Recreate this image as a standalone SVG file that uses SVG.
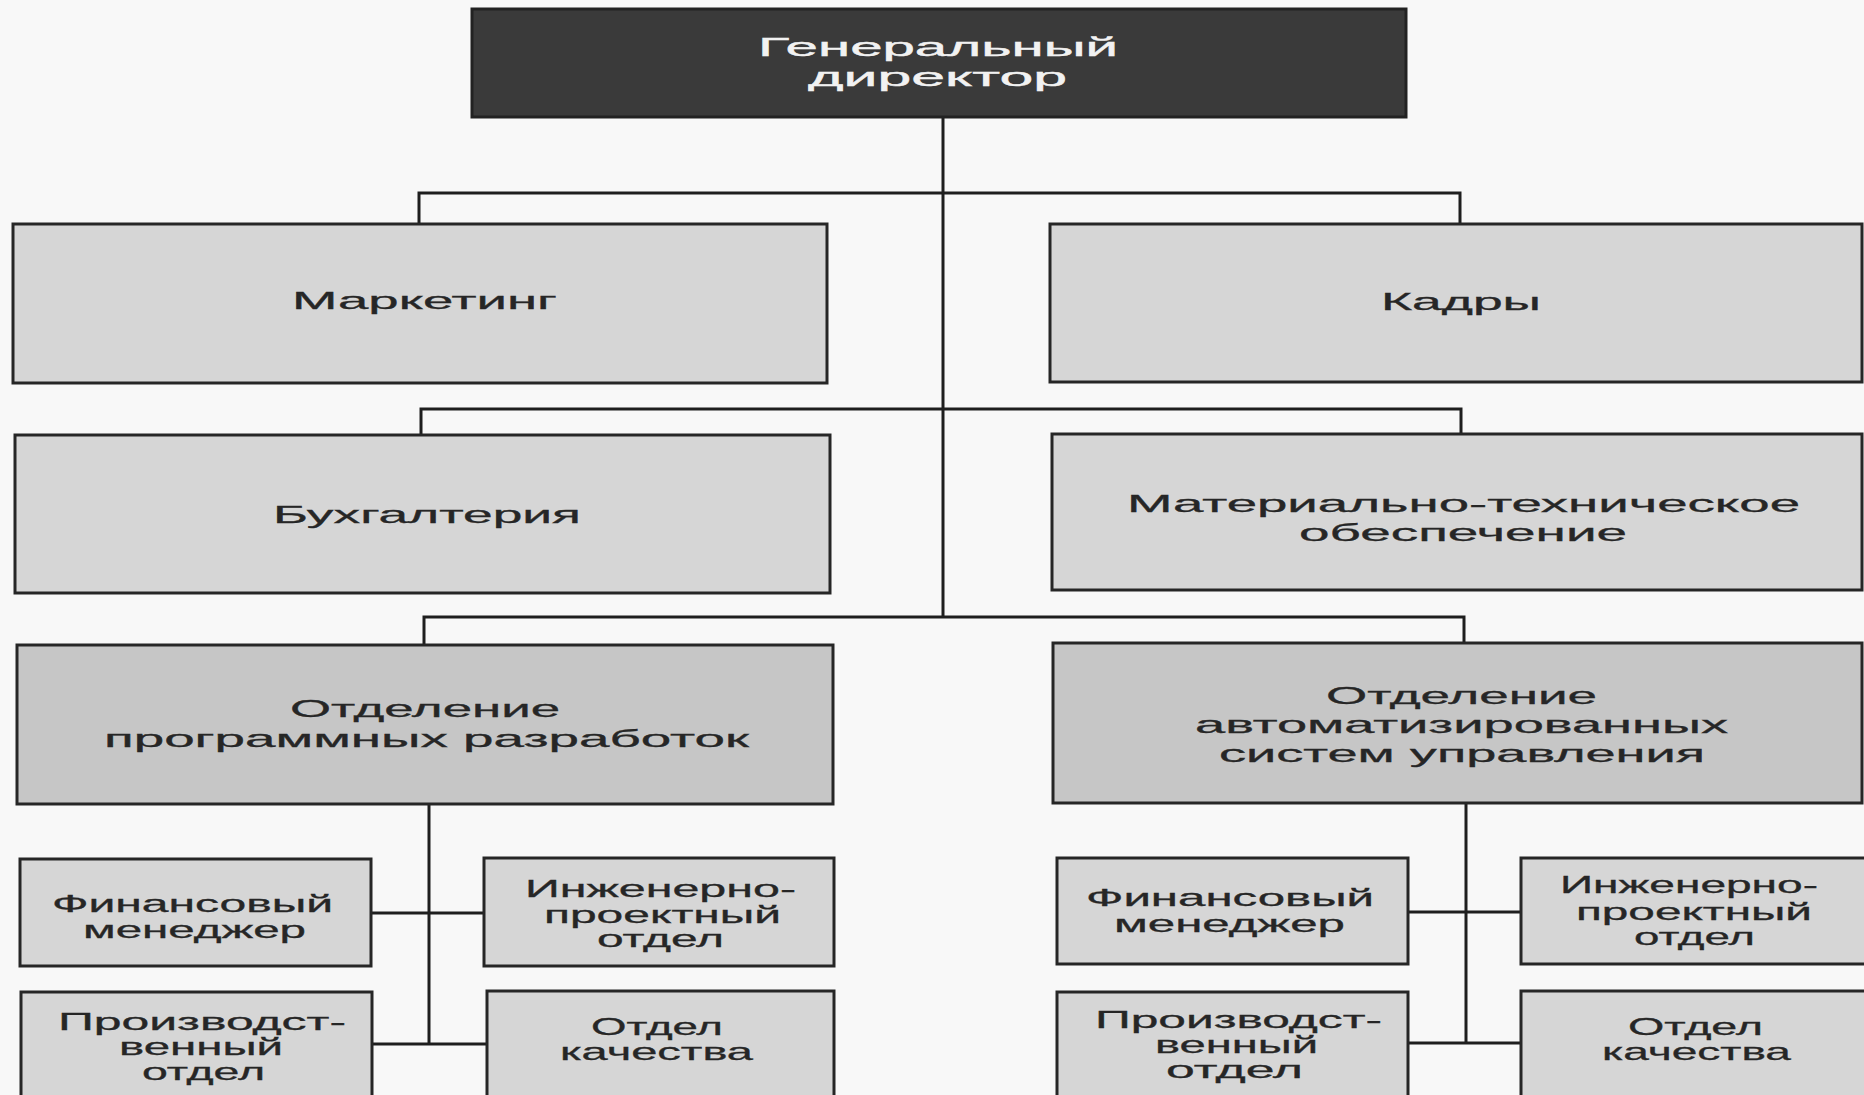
<svg xmlns="http://www.w3.org/2000/svg" width="1864" height="1095" viewBox="0 0 1864 1095">
<style>
.bg{fill:#f8f8f8}
.box{fill:#d6d6d6;stroke:#262626;stroke-width:3}
.div{fill:#c6c6c6;stroke:#262626;stroke-width:3}
.top{fill:#3a3a3a;stroke:#222;stroke-width:3}
.t{font-family:"Liberation Sans",Arial,sans-serif;font-size:24px;fill:#262626;stroke:#262626;stroke-width:0.3}
.tw{font-family:"Liberation Sans",Arial,sans-serif;font-size:26px;fill:#f2f2f2;stroke:#f2f2f2;stroke-width:0.4}
.c{fill:none;stroke:#1e1e1e;stroke-width:3}
</style>
<rect class="bg" x="0" y="0" width="1864" height="1095"/>
<g id="connectors">
<path class="c" d="M943,117 V617"/>
<path class="c" d="M419,224 V193 H1460 V224"/>
<path class="c" d="M421,435 V409 H1461 V434"/>
<path class="c" d="M424,645 V617 H1464 V643"/>
<path class="c" d="M429,804 V1044"/>
<path class="c" d="M372,913 H484"/>
<path class="c" d="M372,1044 H487"/>
<path class="c" d="M1466,803 V1043"/>
<path class="c" d="M1408,912 H1521"/>
<path class="c" d="M1408,1043 H1521"/>
</g>
<g id="director">
<rect class="top" x="472" y="9" width="934" height="108"/>
<text class="tw" x="758" y="56" textLength="360" lengthAdjust="spacingAndGlyphs">Генеральный</text>
<text class="tw" x="808" y="86" textLength="259" lengthAdjust="spacingAndGlyphs">директор</text>
</g>
<g id="marketing">
<rect class="box" x="13" y="224" width="814" height="159"/>
<text class="t" x="292" y="309" textLength="265" lengthAdjust="spacingAndGlyphs">Маркетинг</text>
</g>
<g id="kadry">
<rect class="box" x="1050" y="224" width="812" height="158"/>
<text class="t" x="1381" y="310" textLength="160" lengthAdjust="spacingAndGlyphs">Кадры</text>
</g>
<g id="buh">
<rect class="box" x="15" y="435" width="815" height="158"/>
<text class="t" x="273" y="523" textLength="308" lengthAdjust="spacingAndGlyphs">Бухгалтерия</text>
</g>
<g id="mto">
<rect class="box" x="1052" y="434" width="810" height="156"/>
<text class="t" x="1127" y="512" textLength="673" lengthAdjust="spacingAndGlyphs">Материально-техническое</text>
<text class="t" x="1299" y="541" textLength="328" lengthAdjust="spacingAndGlyphs">обеспечение</text>
</g>
<g id="opr">
<rect class="div" x="17" y="645" width="816" height="159"/>
<text class="t" x="290" y="717" textLength="270" lengthAdjust="spacingAndGlyphs">Отделение</text>
<text class="t" x="104" y="747" textLength="645" lengthAdjust="spacingAndGlyphs">программных разработок</text>
</g>
<g id="asu">
<rect class="div" x="1053" y="643" width="809" height="160"/>
<text class="t" x="1326" y="704" textLength="271" lengthAdjust="spacingAndGlyphs">Отделение</text>
<text class="t" x="1195" y="733" textLength="533" lengthAdjust="spacingAndGlyphs">автоматизированных</text>
<text class="t" x="1219" y="762" textLength="486" lengthAdjust="spacingAndGlyphs">систем управления</text>
</g>
<g id="fin-left">
<rect class="box" x="20" y="859" width="351" height="107"/>
<text class="t" x="52" y="912" textLength="281" lengthAdjust="spacingAndGlyphs">Финансовый</text>
<text class="t" x="83" y="938" textLength="223" lengthAdjust="spacingAndGlyphs">менеджер</text>
</g>
<g id="eng-left">
<rect class="box" x="484" y="858" width="350" height="108"/>
<text class="t" x="525" y="897" textLength="271" lengthAdjust="spacingAndGlyphs">Инженерно-</text>
<text class="t" x="544" y="923" textLength="237" lengthAdjust="spacingAndGlyphs">проектный</text>
<text class="t" x="597" y="947" textLength="127" lengthAdjust="spacingAndGlyphs">отдел</text>
</g>
<g id="prod-left">
<rect class="box" x="21" y="992" width="351" height="120"/>
<text class="t" x="58" y="1030" textLength="288" lengthAdjust="spacingAndGlyphs">Производст-</text>
<text class="t" x="119" y="1055" textLength="164" lengthAdjust="spacingAndGlyphs">венный</text>
<text class="t" x="142" y="1080" textLength="123" lengthAdjust="spacingAndGlyphs">отдел</text>
</g>
<g id="qual-left">
<rect class="box" x="487" y="991" width="347" height="120"/>
<text class="t" x="591" y="1035" textLength="132" lengthAdjust="spacingAndGlyphs">Отдел</text>
<text class="t" x="560" y="1060" textLength="193" lengthAdjust="spacingAndGlyphs">качества</text>
</g>
<g id="fin-right">
<rect class="box" x="1057" y="858" width="351" height="106"/>
<text class="t" x="1086" y="906" textLength="288" lengthAdjust="spacingAndGlyphs">Финансовый</text>
<text class="t" x="1114" y="932" textLength="231" lengthAdjust="spacingAndGlyphs">менеджер</text>
</g>
<g id="eng-right">
<rect class="box" x="1521" y="858" width="350" height="106"/>
<text class="t" x="1560" y="893" textLength="258" lengthAdjust="spacingAndGlyphs">Инженерно-</text>
<text class="t" x="1576" y="920" textLength="236" lengthAdjust="spacingAndGlyphs">проектный</text>
<text class="t" x="1634" y="945" textLength="121" lengthAdjust="spacingAndGlyphs">отдел</text>
</g>
<g id="prod-right">
<rect class="box" x="1057" y="992" width="351" height="120"/>
<text class="t" x="1095" y="1028" textLength="287" lengthAdjust="spacingAndGlyphs">Производст-</text>
<text class="t" x="1155" y="1053" textLength="163" lengthAdjust="spacingAndGlyphs">венный</text>
<text class="t" x="1166" y="1078" textLength="137" lengthAdjust="spacingAndGlyphs">отдел</text>
</g>
<g id="qual-right">
<rect class="box" x="1521" y="991" width="350" height="120"/>
<text class="t" x="1628" y="1035" textLength="135" lengthAdjust="spacingAndGlyphs">Отдел</text>
<text class="t" x="1602" y="1060" textLength="189" lengthAdjust="spacingAndGlyphs">качества</text>
</g>
</svg>
